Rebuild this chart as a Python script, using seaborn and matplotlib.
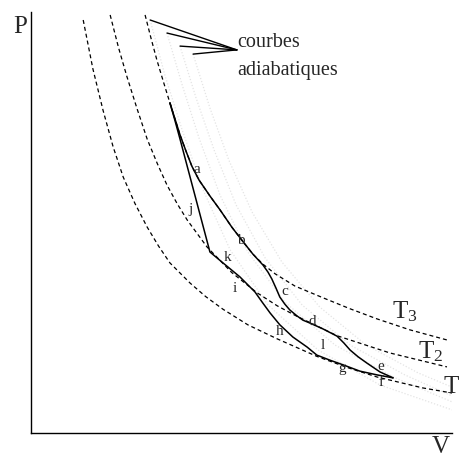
import matplotlib
matplotlib.use("Agg")
import matplotlib.pyplot as plt
import seaborn as sns

# ---- data (V, P in arbitrary units, 0..100) ----
T1_V = [12.4, 14.7, 17.1, 19.5, 21.9, 24.7, 27.6, 30.3, 33.0, 37.8, 41.5, 45.6,
        51.5, 58.4, 67.9, 75.0, 82.2, 93.1, 100.0]
T1_P = [98.1, 86.5, 76.7, 68.0, 60.8, 54.5, 48.9, 44.4, 40.4, 35.6, 32.4, 29.4,
        25.7, 22.4, 18.2, 15.6, 13.3, 10.7, 9.5]

T2_V = [18.8, 20.8, 22.8, 25.2, 27.6, 30.0, 32.3, 34.7, 37.1, 41.8, 47.7, 53.7,
        58.5, 63.2, 72.7, 85.3, 98.8]
T2_P = [99.3, 91.5, 84.6, 77.0, 69.8, 64.0, 58.9, 54.5, 50.6, 44.2, 38.1, 33.3,
        30.2, 27.7, 23.1, 19.0, 15.7]

T3_V = [27.1, 28.5, 29.9, 31.4, 33.0, 34.2, 35.4, 36.8, 38.2, 39.9, 42.5, 44.9,
        47.7, 50.4, 52.7, 55.1, 58.0, 62.7, 69.4, 75.8, 82.2, 90.0, 98.8]
T3_P = [99.3, 93.8, 88.6, 83.6, 78.4, 74.6, 70.8, 67.0, 63.4, 60.1, 56.3, 53.0,
        48.9, 45.4, 42.5, 40.1, 37.8, 34.9, 32.1, 29.5, 27.1, 24.5, 22.1]

# faint adiabatic curves
AD1_V = [28.3, 31.8, 35.9, 40.9, 47.3, 56.3, 68.2, 82.9, 100.0]
AD1_P = [98.1, 85.0, 72.0, 57.7, 43.5, 30.4, 19.7, 11.4, 5.5]
AD2_V = [32.3, 35.9, 39.9, 44.9, 51.5, 60.3, 72.2, 86.5, 100.0]
AD2_P = [95.0, 82.7, 70.1, 56.5, 43.0, 31.1, 20.9, 13.1, 7.4]
AD3_V = [35.4, 39.2, 43.5, 48.7, 55.6, 64.4, 75.8, 88.8, 100.0]
AD3_P = [91.9, 79.6, 67.2, 54.2, 41.6, 30.4, 20.9, 13.8, 8.8]
AD4_V = [38.5, 42.5, 47.0, 52.5, 59.6, 68.6, 79.6, 91.9, 100.0]
AD4_P = [90.0, 77.2, 64.8, 52.5, 40.6, 29.9, 20.9, 14.3, 10.9]

# cycle: upper branch (a-b-c-d-e) and lower branch (j-k-i-h-g-f)
UP_V = [33.0, 34.2, 35.4, 36.8, 38.2, 39.9, 42.5, 44.9, 47.7, 50.4, 52.7, 55.1,
        56.3, 57.2, 58.2, 59.1, 60.3, 61.5, 63.2, 64.6, 66.3, 69.4, 72.7, 74.3,
        75.8, 77.7, 79.8, 82.9, 86.0]
UP_P = [78.4, 74.6, 70.8, 67.0, 63.4, 60.1, 56.3, 53.0, 48.9, 45.4, 42.5, 39.9,
        38.2, 36.6, 34.4, 32.3, 30.6, 29.2, 27.8, 26.8, 26.1, 24.7, 23.0, 21.4,
        19.7, 18.1, 16.6, 14.5, 13.1]
LO_V = [33.0, 34.2, 35.4, 42.5, 45.6, 49.6, 53.2, 54.9, 56.8, 59.1, 62.2, 65.6,
        67.9, 71.0, 74.1, 78.1, 82.2, 86.0]
LO_P = [78.4, 74.2, 69.8, 43.0, 40.4, 37.1, 33.5, 31.1, 28.5, 25.7, 22.8, 20.4,
        18.5, 17.3, 16.2, 14.7, 13.8, 13.1]

PT_LABELS = ["a", "j", "b", "k", "i", "c", "h", "d", "l", "g", "e", "f"]
PT_V = [39.4, 38.0, 49.9, 46.8, 48.5, 60.3, 59.1, 66.7, 69.4, 73.9, 83.1, 83.1]
PT_P = [62.5, 53.0, 45.8, 41.8, 34.4, 33.5, 24.0, 26.4, 20.9, 15.4, 15.7, 11.9]

ISO_LABELS = [r"$\mathrm{T}_3$", r"$\mathrm{T}_2$", "T"]
ISO_LBL_V = [85.8, 91.9, 97.9]
ISO_LBL_P = [27.3, 17.8, 9.5]

# ---- styling ----
sns.set_style("white")
plt.rcParams["font.family"] = ["Liberation Serif", "DejaVu Serif"]
plt.rcParams["mathtext.fontset"] = "custom"
plt.rcParams["mathtext.rm"] = "Liberation Serif"
plt.rcParams["mathtext.it"] = "Liberation Serif:italic"

fig = plt.figure(figsize=(4.6, 4.58), dpi=100)
ax = fig.add_axes([31 / 460, 25 / 458, 421 / 460, 421 / 458])
ax.set_xlim(0, 100)
ax.set_ylim(0, 100)

# faint adiabats
for av, ap in [(AD1_V, AD1_P), (AD2_V, AD2_P), (AD3_V, AD3_P), (AD4_V, AD4_P)]:
    sns.lineplot(x=av, y=ap, sort=False, estimator=None, ax=ax,
                 color="#e4e4e4", linewidth=0.9, linestyle=(0, (1, 1.5)))

# isotherms
for tv, tp in [(T1_V, T1_P), (T2_V, T2_P), (T3_V, T3_P)]:
    sns.lineplot(x=tv, y=tp, sort=False, estimator=None, ax=ax,
                 color="black", linewidth=0.9, linestyle=(0, (3.2, 2.4)))

# cycle
for cv, cp in [(UP_V, UP_P), (LO_V, LO_P)]:
    sns.lineplot(x=cv, y=cp, sort=False, estimator=None, ax=ax,
                 color="black", linewidth=1.1)

# point labels
for lab, v, p in zip(PT_LABELS, PT_V, PT_P):
    ax.text(v, p, lab, fontsize=11, ha="center", va="center")

# isotherm labels
for lab, v, p in zip(ISO_LABELS, ISO_LBL_V, ISO_LBL_P):
    ax.text(v, p, lab, fontsize=18, ha="left", va="baseline", clip_on=False)

# annotation "courbes adiabatiques"
txt_v, txt_p = 48.9, 91.0
for av, ap in [(AD1_V, AD1_P), (AD2_V, AD2_P), (AD3_V, AD3_P), (AD4_V, AD4_P)]:
    ax.annotate("", xy=(av[0], ap[0]), xytext=(txt_v, txt_p),
                arrowprops=dict(arrowstyle="-", lw=1.0, color="black",
                                shrinkA=0, shrinkB=0))
ax.text(48.9, 91.7, "courbes", fontsize=14.5, ha="left", va="baseline")
ax.text(48.9, 85.0, "adiabatiques", fontsize=14.5, ha="left", va="baseline")

# axis labels
ax.text(-4.3, 95.0, "P", fontsize=18, ha="left", va="baseline", clip_on=False)
ax.text(95.2, -5.9, "V", fontsize=18, ha="left", va="bottom", clip_on=False)

ax.set_xticks([])
ax.set_yticks([])
ax.set_xlabel("")
ax.set_ylabel("")
for s in ["top", "right"]:
    ax.spines[s].set_visible(False)
for s in ["left", "bottom"]:
    ax.spines[s].set_color("black")
    ax.spines[s].set_linewidth(1.0)

fig.savefig("out.png", dpi=100)
